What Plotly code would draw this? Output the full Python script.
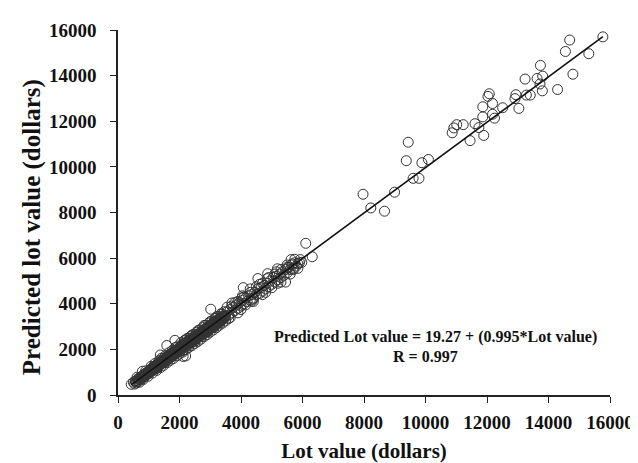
import plotly.graph_objects as go

# Regression constants (from the chart annotation)
intercept = 19.27
slope = 0.995

# Low-value lots (dense band)
lot_low = [430, 500, 540, 580, 600, 640, 660, 700, 720, 750, 780, 800, 830, 850, 880, 900, 920, 950, 970, 990,
           560, 620, 680, 760, 860, 794, 620, 700, 820, 900, 980, 830, 930]
pred_low = [470, 560, 480, 620, 530, 700, 600, 680, 760, 700, 820, 740, 880, 800, 900, 850, 980, 900, 1000, 940,
            600, 580, 740, 780, 920, 1040, 780, 560, 680, 1060, 820, 820, 940]

lot_mid1 = [1010, 1030, 1050, 1070, 1090, 1100, 1120, 1140, 1160, 1180, 1200, 1220, 1240, 1260, 1280, 1300, 1320,
            1340, 1360, 1380, 1400, 1420, 1440, 1460, 1480, 1500, 1520, 1540, 1560, 1580, 1600, 1620, 1640, 1660,
            1680, 1700, 1720, 1740, 1760, 1780, 1800, 1820, 1840, 1860, 1880, 1900, 1920, 1940, 1960, 1980,
            1050, 1150, 1250, 1350, 1450, 1550, 1650, 1750, 1850, 1950, 1100, 1300, 1500, 1700, 1900,
            1587, 1851, 2117, 1376, 2200,
            1080, 1120, 1200, 1260, 1330, 1380, 1420, 1480, 1540, 1600, 1650, 1700, 1760, 1800, 1860, 1920, 1960,
            1030, 1130, 1230, 1330, 1430, 1530, 1630, 1730, 1830, 1930]
pred_mid1 = [1050, 980, 1120, 1040, 1150, 1060, 1200, 1100, 1180, 1240, 1150, 1280, 1200, 1320, 1230, 1380, 1270,
             1400, 1320, 1450, 1360, 1480, 1400, 1600, 1430, 1550, 1480, 1620, 1500, 1650, 1560, 1700, 1580, 1720,
             1640, 1800, 1660, 1820, 1700, 1850, 1740, 1900, 1780, 1920, 1830, 1960, 1850, 2000, 1900, 2050,
             1000, 1250, 1150, 1300, 1520, 1450, 1650, 1760, 1850, 1950, 1130, 1290, 1500, 1700, 1880,
             2170, 2396, 1690, 1754, 1711,
             1260, 960, 1380, 1080, 1500, 1200, 1620, 1300, 1720, 1420, 1850, 1520, 1950, 1600, 2080, 1720, 2150,
             1020, 1140, 1230, 1340, 1420, 1540, 1620, 1740, 1820, 1940]

lot_mid2 = [2000, 2020, 2040, 2060, 2080, 2100, 2120, 2140, 2160, 2180, 2200, 2220, 2240, 2260, 2280, 2300, 2320,
            2340, 2360, 2380, 2400, 2420, 2440, 2460, 2480, 2500, 2520, 2540, 2560, 2580, 2600, 2620, 2640, 2660,
            2680, 2700, 2720, 2740, 2760, 2780, 2800, 2820, 2840, 2860, 2880, 2900, 2920, 2940, 2960, 2980, 3000,
            3020, 3040, 3060, 3080, 3100, 3120, 3140, 3160, 3180, 3200, 3220, 3240, 3260, 3280, 3300, 3320, 3340,
            3360, 3380, 3400, 3420, 3440, 3460, 3480,
            2050, 2150, 2250, 2350, 2450, 2550, 2650, 2750, 2850, 2950, 3050, 3150, 3250, 3350, 3450,
            2100, 2300, 2500, 2700, 2900, 3100, 3300,
            2200, 2400, 2600, 2800, 3000, 3200, 3016, 3175, 3387,
            2000, 2050, 2100, 2150, 2200, 2250, 2300, 2350, 2400, 2450, 2500, 2550, 2600, 2650, 2700, 2750, 2800,
            2850, 2900, 2950, 3000, 3050, 3100, 3150, 3200, 3250, 3300, 3350, 3400, 3450, 3500,
            2120, 2230, 2330, 2430, 2530, 2630, 2730, 2830, 2930, 3030, 3130, 3230, 3330, 3430]
pred_mid2 = [2000, 2120, 1950, 2150, 2030, 2200, 2080, 2250, 2100, 2280, 2150, 2300, 2180, 2350, 2220, 2400, 2250,
             2420, 2290, 2460, 2330, 2500, 2360, 2540, 2400, 2580, 2430, 2600, 2480, 2640, 2520, 2680, 2560, 2720,
             2600, 2760, 2630, 2800, 2680, 2840, 2700, 2880, 2740, 2920, 2780, 2960, 2800, 3000, 2850, 3050, 2900,
             3080, 2940, 3120, 2980, 3160, 3020, 3200, 3060, 3240, 3100, 3280, 3140, 3300, 3180, 3350, 3220, 3380,
             3260, 3420, 3300, 3460, 3350, 3500, 3400,
             2050, 2180, 2260, 2340, 2470, 2540, 2640, 2730, 2860, 2930, 3040, 3140, 3230, 3330, 3440,
             1950, 2150, 2350, 2550, 2750, 2950, 3150,
             2420, 2620, 2820, 3050, 3220, 3420, 3760, 3367, 3538,
             1800, 2300, 1880, 2380, 1980, 2480, 2080, 2560, 2160, 2660, 2260, 2750, 2350, 2850, 2450, 2950, 2560,
             3050, 2650, 3150, 2760, 3250, 2850, 3350, 2950, 3450, 3060, 3560, 3150, 3650, 3250,
             2140, 2200, 2360, 2400, 2560, 2600, 2760, 2800, 2960, 3000, 3160, 3200, 3360, 3400]

lot_mid3 = [3500, 3550, 3600, 3650, 3700, 3750, 3800, 3850, 3900, 3950, 4000, 4050, 4100, 4150, 4200, 4250, 4300,
            4350, 4400, 4450, 4500, 4550, 4600, 4650, 4700, 4750, 4800, 4850, 4900, 4950, 5000, 5050, 5100, 5150,
            5200, 5250, 5300, 5350, 5400, 5450, 5500, 5550, 5600, 5650, 5700, 5750, 5800, 5850, 5900,
            5500, 5300, 5100, 4900, 4700, 4500, 4300, 4100, 3900, 3700,
            5200, 4800, 4400, 4000, 3600, 5450, 5700,
            4074, 4550, 4867, 5184, 5661, 5978, 4021, 4339, 3704,
            3550, 3650, 3800, 3900, 4050, 4150, 4300, 4400, 4600, 4700, 4850, 5000, 5150, 5300, 5500, 5600, 5750, 5850]
pred_mid3 = [3450, 3650, 3500, 3750, 3600, 3850, 3700, 3950, 3800, 4050, 3900, 4150, 4000, 4250, 4100, 4350, 4150,
             4400, 4250, 4500, 4400, 4650, 4450, 4700, 4550, 4800, 4650, 4900, 4750, 5000, 4850, 5150, 4950, 5200,
             5050, 5300, 5150, 5400, 5250, 5500, 5350, 5600, 5500, 5700, 5550, 5800, 5650, 5750, 5800,
             5700, 5500, 5300, 5150, 4900, 4750, 4500, 4300, 4100, 3900,
             4900, 4500, 4100, 3750, 3350, 4950, 5500,
             4706, 5104, 5318, 5532, 5745, 5818, 4248, 4107, 4034,
             3850, 3400, 4050, 3600, 4350, 3950, 4650, 4200, 4850, 4400, 5100, 4700, 5400, 4950, 5600, 5300, 5950, 5550]

lot_high = [6105, 6317, 7968, 8222, 8667, 8994, 9375, 9438, 9597, 9788, 9883, 10095, 10868, 10921, 11016, 11227,
            11450, 11609, 11736, 11862, 11862, 11894, 12032, 12074, 12180, 12180, 12244, 12508, 12910, 12940,
            13037, 13238, 13280, 13407, 13629, 13724, 13737, 13800, 13810, 14296, 14550, 14689, 14794, 15311, 15768,
            5629, 5927]
pred_high = [6650, 6060, 8800, 8200, 8057, 8890, 10270, 11080, 9497, 9497, 10182, 10323, 11494, 11707, 11850, 11850,
             11151, 11893, 11722, 12192, 12633, 11379, 13091, 13206, 12778, 12307, 12136, 12592, 12992, 13163,
             12563, 13848, 13147, 13147, 13875, 13635, 14447, 13334, 13977, 13390, 15059, 15559, 14062, 14960, 15700,
             5934, 5934]

lot = lot_low + lot_mid1 + lot_mid2 + lot_mid3 + lot_high
pred = pred_low + pred_mid1 + pred_mid2 + pred_mid3 + pred_high

tick_vals = [0, 2000, 4000, 6000, 8000, 10000, 12000, 14000, 16000]
tick_text = [str(v) for v in tick_vals]

font_family = "Liberation Serif"

fig = go.Figure()
fig.add_trace(go.Scatter(
    x=lot, y=pred, mode="markers",
    marker=dict(symbol="circle-open", size=10, color="#333333", line=dict(width=1)),
    cliponaxis=False, showlegend=False,
))

x0, x1 = min(lot), max(lot)
fig.add_trace(go.Scatter(
    x=[x0, x1], y=[intercept + slope * x0, intercept + slope * x1],
    mode="lines", line=dict(color="#111111", width=1.6), showlegend=False,
))

axis_common = dict(
    range=[0, 16000], tickvals=tick_vals, ticktext=tick_text,
    showgrid=False, zeroline=False, showline=True, linecolor="#222222", linewidth=1.5,
    ticks="outside", ticklen=6, tickcolor="#222222",
    tickfont=dict(family=font_family, size=19, color="#111111", weight="bold"),
)

fig.update_layout(
    width=638, height=463,
    margin=dict(l=110, r=24, t=22, b=67),
    paper_bgcolor="white", plot_bgcolor="white",
    font=dict(family=font_family, color="#111111"),
    xaxis=dict(**axis_common, ticklabelstandoff=3,
               title=dict(text="Lot value (dollars)",
                          font=dict(family=font_family, size=21, weight="bold"), standoff=12)),
    yaxis=dict(**axis_common, ticklabelstandoff=10),
)

# annotations placed in pixel terms, converted to paper coords
W, H = 638, 463
L, R, T, B = 110, 24, 22, 67
pw, ph = W - L - R, H - T - B
notes = [("Predicted Lot value = 19.27 + (0.995*Lot value)", 435, 337, 16, 0),
         ("R = 0.997", 425, 357, 16, 0),
         ("Predicted lot value (dollars)", 22, 224, 25, -90)]
for text, px, py, fs, ang in notes:
    fig.add_annotation(text=text, x=(px - L) / pw, y=1 - (py - T) / ph, xref="paper", yref="paper",
                       xanchor="center", yanchor="middle", showarrow=False, textangle=ang,
                       font=dict(family=font_family, size=fs, color="#111111", weight="bold"))

fig.write_html("out.html")
